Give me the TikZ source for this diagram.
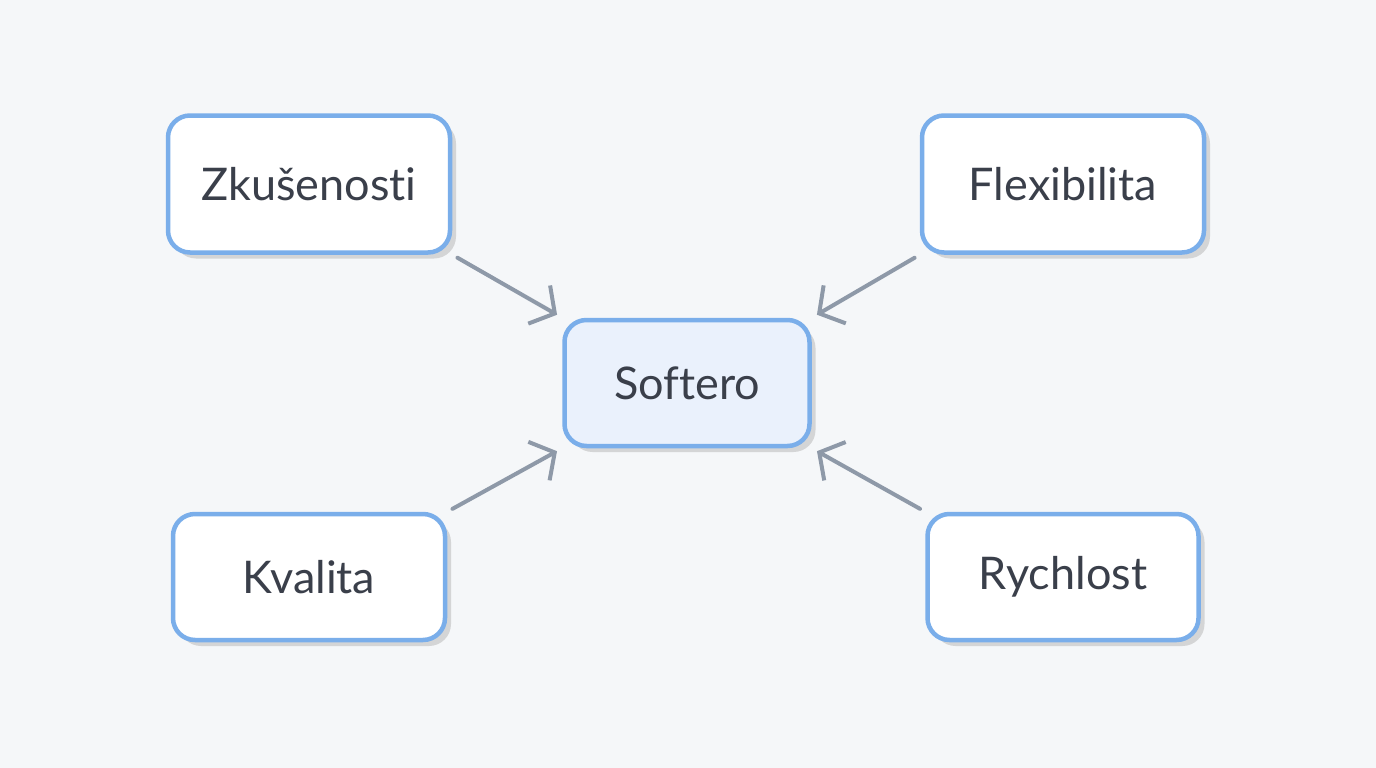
\documentclass[tikz,border=0pt]{standalone}
\usepackage{fontspec}
\setmainfont{Lato}[Ligatures=CommonOff]
\usetikzlibrary{arrows.meta,shadows.blur}
\definecolor{bgcol}{RGB}{245,247,249}
\definecolor{boxline}{RGB}{122,174,234}
\definecolor{hubfill}{RGB}{234,241,252}
\definecolor{arrowcol}{RGB}{142,153,168}
\definecolor{textcol}{RGB}{58,63,74}
\tikzset{
  factor/.style={draw=boxline, line width=4.5pt, rounded corners=22pt, fill=white,
    text=textcol, font=\fontsize{45}{52}\selectfont,
    drop shadow={shadow xshift=6pt, shadow yshift=-6pt, fill=black!25, opacity=0.6}},
  link/.style={draw=arrowcol, line width=4pt, line cap=round,
    -{Straight Barb[length=18pt,width=44pt,line width=4pt]},
    shorten <=6pt, shorten >=6pt}
}
\begin{document}
\begin{tikzpicture}[x=1pt,y=1pt,yscale=-1,xscale=1]
%background
\fill[bgcol] (0,0) rectangle (1376,768);
\useasboundingbox (0,0) rectangle (1376,768);

%boxes
\node[factor, minimum width=282pt, minimum height=137pt] (zkus) at (309,184) {Zkušenosti};
\node[factor, minimum width=282pt, minimum height=137pt] (flex) at (1063,184) {Flexibilita};
\node[factor, fill=hubfill, minimum width=245pt, minimum height=126pt] (soft) at (687,383) {Softero};
\node[factor, minimum width=272pt, minimum height=126pt] (kval) at (309,577) {Kvalita};
\node[factor, minimum width=271pt, minimum height=126pt] (rych) at (1063,577) {Rychlost};

%arrows
\draw[link] (zkus.south east) -- (soft.north west);
\draw[link] (flex.south west) -- (soft.north east);
\draw[link] (kval.north east) -- (soft.south west);
\draw[link] (rych.north west) -- (soft.south east);
\end{tikzpicture}
\end{document}
